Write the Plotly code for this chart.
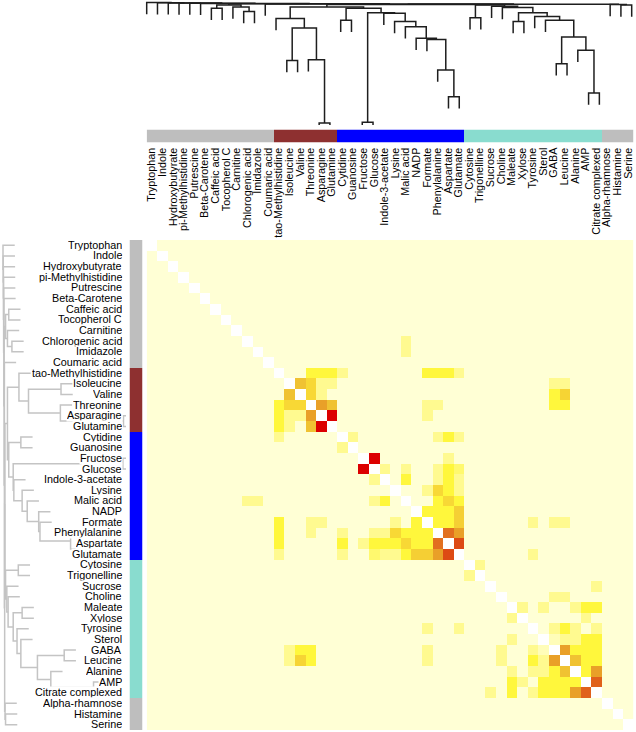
import plotly.graph_objects as go

# ---------------- data ----------------
labels = ["Tryptophan", "Indole", "Hydroxybutyrate", "pi-Methylhistidine", "Putrescine",
          "Beta-Carotene", "Caffeic acid", "Tocopherol C", "Carnitine", "Chlorogenic acid",
          "Imidazole", "Coumaric acid", "tao-Methylhistidine", "Isoleucine", "Valine",
          "Threonine", "Asparagine", "Glutamine", "Cytidine", "Guanosine", "Fructose",
          "Glucose", "Indole-3-acetate", "Lysine", "Malic acid", "NADP", "Formate",
          "Phenylalanine", "Aspartate", "Glutamate", "Cytosine", "Trigonelline", "Sucrose",
          "Choline", "Maleate", "Xylose", "Tyrosine", "Sterol", "GABA", "Leucine", "Alanine",
          "AMP", "Citrate complexed", "Alpha-rhamnose", "Histamine", "Serine"]

group_sizes = [12, 6, 12, 13, 3]
group_colors = ["#BEBEBE", "#8E3030", "#0000FF", "#89DCCF", "#BEBEBE"]

base_value = 0.0
# strong correlations, upper triangle: (row index, column index, value)
pairs = [
    (9, 24, 0.55), (10, 24, 0.55),
    (12, 15, 0.60), (12, 16, 0.60), (12, 17, 0.60), (12, 18, 0.55),
    (12, 26, 0.60), (12, 27, 0.60), (12, 28, 0.60), (12, 29, 0.55),
    (13, 14, 0.70), (13, 15, 0.65), (13, 16, 0.55), (13, 17, 0.55),
    (13, 38, 0.55), (13, 39, 0.55),
    (14, 15, 0.65), (14, 16, 0.55), (14, 38, 0.60), (14, 39, 0.66),
    (15, 16, 0.75), (15, 17, 0.70), (15, 26, 0.55), (15, 27, 0.55),
    (15, 38, 0.60), (15, 39, 0.60),
    (16, 17, 0.95), (16, 26, 0.55),
    (18, 19, 0.55), (18, 27, 0.55), (18, 28, 0.60), (18, 29, 0.55),
    (20, 21, 0.95), (20, 28, 0.55),
    (21, 22, 0.55), (21, 24, 0.55), (21, 27, 0.55), (21, 28, 0.60), (21, 29, 0.57),
    (22, 24, 0.60), (22, 27, 0.55), (22, 28, 0.60), (22, 29, 0.55),
    (23, 26, 0.55), (23, 27, 0.65), (23, 28, 0.60), (23, 29, 0.55),
    (24, 27, 0.60), (24, 28, 0.65), (24, 29, 0.60),
    (25, 26, 0.60), (25, 27, 0.60), (25, 28, 0.60), (25, 29, 0.67),
    (26, 27, 0.60), (26, 28, 0.60), (26, 29, 0.67),
    (26, 36, 0.55), (26, 38, 0.55), (26, 39, 0.55),
    (27, 28, 0.80), (27, 29, 0.75),
    (28, 29, 0.85),
    (29, 36, 0.55),
    (30, 31, 0.55),
    (32, 42, 0.55),
    (33, 38, 0.55), (33, 39, 0.55),
    (34, 35, 0.55), (34, 37, 0.55), (34, 40, 0.55), (34, 41, 0.60), (34, 42, 0.60),
    (35, 41, 0.55),
    (36, 38, 0.55), (36, 39, 0.60), (36, 40, 0.55), (36, 42, 0.55),
    (37, 38, 0.52), (37, 39, 0.55), (37, 40, 0.55), (37, 41, 0.60), (37, 42, 0.60),
    (38, 39, 0.75), (38, 40, 0.60), (38, 41, 0.60), (38, 42, 0.60),
    (39, 40, 0.70), (39, 41, 0.60), (39, 42, 0.60),
    (40, 41, 0.60), (40, 42, 0.75),
    (41, 42, 0.82),
]

# hierarchical clustering (same tree for rows and columns): (node, left, right, height)
merges = [
    ("A1", 16, 17, 0.055), ("A2", 15, "A1", 0.55), ("A3", 13, 14, 0.545),
    ("A4", "A3", "A2", 0.80), ("A5", 12, "A4", 0.875),
    ("B1", 28, 29, 0.26), ("B2", 27, "B1", 0.47), ("B3", 26, "B2", 0.71),
    ("B4", 25, "B3", 0.72), ("B5", 24, "B4", 0.81), ("B6", 23, "B5", 0.85),
    ("B7", 22, "B6", 0.915), ("B8", 20, 21, 0.06), ("B9", "B8", "B7", 0.92),
    ("B10", 18, 19, 0.86), ("B11", "B10", "B9", 0.955),
    ("AB", "A5", "B11", 0.965),
    ("G1", 6, 7, 0.955), ("G2", 9, 10, 0.93), ("G3", 8, "G2", 0.965), ("G4", "G1", "G3", 0.98),
    ("T1", 41, 42, 0.29), ("T2", 40, "T1", 0.625), ("T3", 38, 39, 0.52),
    ("T4", "T3", "T2", 0.73), ("T5", 37, "T4", 0.86), ("T6", 36, "T5", 0.89),
    ("T7", 34, 35, 0.85), ("T8", "T7", "T6", 0.92), ("T9", 33, "T8", 0.96),
    ("T10", 32, "T9", 0.97), ("T11", 30, 31, 0.88), ("T12", "T11", "T10", 0.98),
    ("R1", 44, 45, 0.98),
    ("C1", "AB", "T12", 0.985), ("Q1", 43, "R1", 0.984), ("Q2", "C1", "Q1", 0.987),
    ("Q3", 11, "Q2", 0.989), ("Q4", "G4", "Q3", 0.991), ("Q5", 5, "Q4", 0.993),
    ("Q6", 4, "Q5", 0.995), ("Q7", 3, "Q6", 0.996), ("Q8", 2, "Q7", 0.997),
    ("Q9", 1, "Q8", 0.998), ("ROOT", 0, "Q9", 1.0),
]

# ---------------- build ----------------
n = len(labels)
z = [[base_value] * n for _ in range(n)]
for i in range(n):
    z[i][i] = None
for i, j, v in pairs:
    z[i][j] = v
    z[j][i] = v

groups = []
for g, s in enumerate(group_sizes):
    groups += [g] * s

colorscale = [
    [0.0, "#FFFFD5"], [0.50, "#FFFFD5"], [0.55, "#FFFA90"], [0.60, "#FFF73C"],
    [0.65, "#F8D835"], [0.70, "#F0C232"], [0.75, "#E9A028"], [0.80, "#E2701F"],
    [0.85, "#DD4A14"], [0.95, "#DC0000"], [1.0, "#DC0000"],
]
ng = len(group_colors)
group_scale = []
for g, c in enumerate(group_colors):
    group_scale.append([g / ng, c])
    group_scale.append([(g + 1) / ng, c])


def dendro_lines(hang):
    pos = {i: float(i) for i in range(n)}
    hgt = {}
    a_pos, a_h = [], []
    for name, a, b, h in merges:
        pa, pb = pos[a], pos[b]
        ha = h - hang if isinstance(a, int) else hgt[a]
        hb = h - hang if isinstance(b, int) else hgt[b]
        a_pos += [pa, pa, pb, pb, None]
        a_h += [ha, h, h, hb, None]
        pos[name] = (pa + pb) / 2
        hgt[name] = h
    return a_pos, a_h


W, H = 636, 732
hm_x0, hm_x1 = 146.7, 633.3
hm_y0, hm_y1 = 240.0, 730.0
PX_PER_H = 127.5      # dendrogram pixels per unit of height
HANG = 0.092

fig = go.Figure()

fig.add_trace(go.Heatmap(
    z=z, x=list(range(n)), y=list(range(n)), colorscale=colorscale,
    zmin=0, zmax=1, showscale=False, xaxis="x", yaxis="y", hoverinfo="skip"))

fig.add_trace(go.Heatmap(
    z=[groups], x=list(range(n)), y=[0], colorscale=group_scale, zmin=0, zmax=ng,
    showscale=False, xaxis="x2", yaxis="y2", hoverinfo="skip"))

fig.add_trace(go.Heatmap(
    z=[[g] for g in groups], x=[0], y=list(range(n)), colorscale=group_scale, zmin=0,
    zmax=ng, showscale=False, xaxis="x3", yaxis="y3", hoverinfo="skip"))

tp, th = dendro_lines(HANG)
fig.add_trace(go.Scatter(x=tp, y=th, mode="lines", line=dict(color="#1E1E1E", width=1.5),
                         xaxis="x4", yaxis="y4", hoverinfo="skip"))
fig.add_trace(go.Scatter(x=th, y=tp, mode="lines", line=dict(color="#C4C4C4", width=1.5),
                         xaxis="x5", yaxis="y5", hoverinfo="skip"))

font = dict(family="Liberation Sans, Arial, sans-serif", size=10.8, color="black")

hidden = dict(visible=False, showgrid=False, zeroline=False)
hm_xdom = [hm_x0 / W, hm_x1 / W]
hm_ydom = [1 - hm_y1 / H, 1 - hm_y0 / H]

top_unit = (631.7 - 146.7) / 45
top_lo, top_hi = -0.4, 45.3

fig.update_layout(
    width=W, height=H, margin=dict(l=0, r=0, t=0, b=0),
    paper_bgcolor="white", plot_bgcolor="white", showlegend=False,
    xaxis=dict(domain=hm_xdom, range=[-0.5, n - 0.5], **hidden),
    yaxis=dict(domain=hm_ydom, range=[n - 0.5, -0.5], **hidden),
    xaxis2=dict(domain=hm_xdom, range=[-0.5, n - 0.5], anchor="y2", side="bottom",
                tickmode="array", tickvals=list(range(n)), ticktext=labels,
                tickangle=-90, ticks="", ticklen=0, ticklabelstandoff=2,
                showgrid=False, zeroline=False, showline=False, tickfont=font),
    yaxis2=dict(domain=[1 - 142.5 / H, 1 - 129.5 / H], anchor="x2", **hidden),
    xaxis3=dict(domain=[129.5 / W, 142.5 / W], range=[-0.5, 0.5], anchor="y3", **hidden),
    yaxis3=dict(domain=hm_ydom, range=[n - 0.5, -0.5], anchor="x3", **hidden),
    xaxis4=dict(domain=[(146.7 + top_lo * top_unit) / W, (146.7 + top_hi * top_unit) / W],
                range=[top_lo, top_hi], anchor="y4", **hidden),
    yaxis4=dict(domain=[1 - 125 / H, 1], range=[5 / PX_PER_H, 130 / PX_PER_H],
                anchor="x4", **hidden),
    xaxis5=dict(domain=[0, 126 / W], range=[130.5 / PX_PER_H, 4.5 / PX_PER_H],
                anchor="y5", **hidden),
    yaxis5=dict(domain=hm_ydom, range=[n - 0.5, -0.5], anchor="x5", **hidden),
)

for i, lab in enumerate(labels):
    fig.add_annotation(text=lab, x=122.5 / W, xref="paper", y=i, yref="y",
                       xanchor="right", yanchor="middle", showarrow=False,
                       bgcolor="white", borderpad=0, height=10.6, valign="bottom",
                       font=font)

fig.write_html("out.html", config={"displayModeBar": False},
               post_script="document.body.style.margin='0px';document.body.style.overflow='hidden';")
